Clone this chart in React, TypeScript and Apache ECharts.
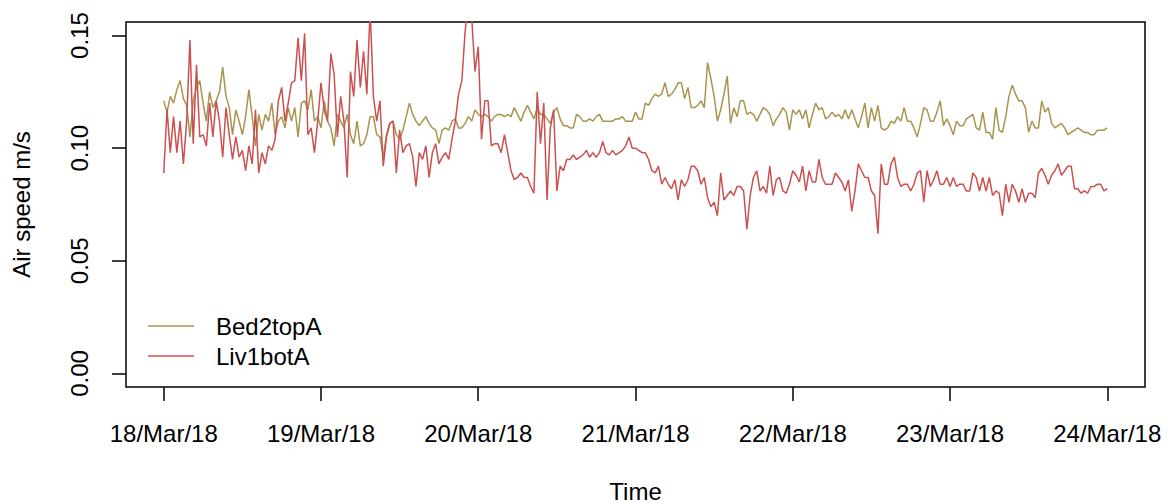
import React, { useEffect, useRef } from "react";
import * as echarts from "echarts";

// Tick positions (hours since 18/Mar/18 00:00) and their labels
const dayHours = [0, 24, 48, 72, 96, 120, 144];
const dayLabels = ["18/Mar/18", "19/Mar/18", "20/Mar/18", "21/Mar/18", "22/Mar/18", "23/Mar/18", "24/Mar/18"];
const yTicks = [0, 0.05, 0.1, 0.15];
const yTickLabels = ["0.00", "0.05", "0.10", "0.15"];
const stepHours = 0.5; // readings every 30 minutes

const bed2topA = [
  0.121, 0.116, 0.123, 0.120, 0.126, 0.130, 0.122, 0.119, 0.105, 0.121,
  0.127, 0.130, 0.120, 0.112, 0.125, 0.118, 0.121, 0.125, 0.136, 0.123,
  0.118, 0.106, 0.117, 0.112, 0.106, 0.114, 0.126, 0.114, 0.101, 0.115,
  0.108, 0.115, 0.112, 0.120, 0.106, 0.112, 0.114, 0.109, 0.118, 0.112,
  0.118, 0.105, 0.120, 0.121, 0.117, 0.126, 0.112, 0.114, 0.109, 0.121,
  0.112, 0.109, 0.101, 0.115, 0.112, 0.109, 0.115, 0.106, 0.102, 0.112,
  0.101, 0.102, 0.106, 0.114, 0.114, 0.106, 0.105, 0.096, 0.106, 0.111,
  0.112, 0.106, 0.104, 0.108, 0.114, 0.120, 0.115, 0.112, 0.110, 0.112,
  0.114, 0.111, 0.109, 0.108, 0.102, 0.108, 0.109, 0.108, 0.112, 0.113,
  0.109, 0.109, 0.111, 0.114, 0.112, 0.117, 0.115, 0.114, 0.115, 0.114,
  0.112, 0.114, 0.115, 0.115, 0.114, 0.115, 0.114, 0.118, 0.115, 0.112,
  0.116, 0.119, 0.116, 0.113, 0.118, 0.115, 0.115, 0.113, 0.111, 0.116,
  0.118, 0.113, 0.110, 0.110, 0.109, 0.109, 0.115, 0.114, 0.112, 0.112,
  0.113, 0.112, 0.114, 0.115, 0.112, 0.112, 0.112, 0.112, 0.113, 0.113,
  0.114, 0.112, 0.112, 0.112, 0.116, 0.113, 0.113, 0.120, 0.119, 0.122,
  0.124, 0.123, 0.124, 0.129, 0.123, 0.124, 0.126, 0.129, 0.129, 0.122,
  0.127, 0.118, 0.118, 0.119, 0.121, 0.118, 0.138, 0.131, 0.123, 0.112,
  0.117, 0.124, 0.132, 0.111, 0.118, 0.114, 0.121, 0.121, 0.115, 0.116,
  0.115, 0.112, 0.115, 0.118, 0.117, 0.115, 0.110, 0.113, 0.115, 0.118,
  0.116, 0.108, 0.117, 0.115, 0.117, 0.113, 0.117, 0.109, 0.115, 0.120,
  0.117, 0.118, 0.113, 0.114, 0.116, 0.114, 0.115, 0.113, 0.117, 0.113,
  0.117, 0.113, 0.109, 0.114, 0.120, 0.109, 0.118, 0.112, 0.119, 0.109,
  0.108, 0.109, 0.112, 0.111, 0.114, 0.112, 0.118, 0.112, 0.112, 0.109,
  0.105, 0.111, 0.118, 0.117, 0.112, 0.112, 0.116, 0.121, 0.110, 0.113,
  0.110, 0.106, 0.112, 0.110, 0.110, 0.113, 0.114, 0.115, 0.109, 0.108,
  0.116, 0.107, 0.107, 0.104, 0.118, 0.108, 0.107, 0.114, 0.123, 0.128,
  0.124, 0.121, 0.121, 0.118, 0.107, 0.112, 0.109, 0.109, 0.121, 0.116,
  0.118, 0.111, 0.109, 0.110, 0.111, 0.109, 0.106, 0.107, 0.108, 0.109,
  0.108, 0.107, 0.107, 0.106, 0.106, 0.108, 0.108, 0.108, 0.109,
];

const liv1botA = [
  0.089, 0.117, 0.098, 0.114, 0.098, 0.112, 0.093, 0.112, 0.148, 0.102,
  0.137, 0.105, 0.106, 0.101, 0.120, 0.105, 0.121, 0.112, 0.096, 0.118,
  0.106, 0.095, 0.105, 0.096, 0.099, 0.090, 0.101, 0.093, 0.117, 0.089,
  0.098, 0.093, 0.101, 0.099, 0.104, 0.121, 0.127, 0.112, 0.120, 0.129,
  0.130, 0.149, 0.130, 0.151, 0.106, 0.109, 0.098, 0.112, 0.129, 0.117,
  0.112, 0.142, 0.133, 0.105, 0.123, 0.112, 0.087, 0.134, 0.123, 0.148,
  0.127, 0.143, 0.124, 0.162, 0.123, 0.112, 0.121, 0.092, 0.105, 0.111,
  0.112, 0.089, 0.108, 0.098, 0.101, 0.102, 0.096, 0.083, 0.098, 0.095,
  0.101, 0.087, 0.098, 0.102, 0.093, 0.096, 0.098, 0.095, 0.104, 0.112,
  0.124, 0.130, 0.152, 0.165, 0.158, 0.134, 0.145, 0.104, 0.121, 0.121,
  0.101, 0.102, 0.102, 0.098, 0.106, 0.098, 0.090, 0.086, 0.087, 0.089,
  0.087, 0.087, 0.083, 0.080, 0.125, 0.102, 0.120, 0.077, 0.109, 0.117,
  0.081, 0.092, 0.090, 0.095, 0.095, 0.097, 0.095, 0.096, 0.097, 0.099,
  0.096, 0.098, 0.096, 0.098, 0.103, 0.098, 0.097, 0.099, 0.097, 0.098,
  0.099, 0.101, 0.105, 0.100, 0.100, 0.099, 0.098, 0.098, 0.095, 0.090,
  0.089, 0.092, 0.084, 0.087, 0.084, 0.082, 0.086, 0.077, 0.086, 0.083,
  0.086, 0.092, 0.092, 0.090, 0.084, 0.087, 0.078, 0.074, 0.076, 0.070,
  0.089, 0.077, 0.079, 0.081, 0.079, 0.083, 0.083, 0.081, 0.064, 0.079,
  0.087, 0.090, 0.081, 0.083, 0.080, 0.092, 0.079, 0.086, 0.087, 0.081,
  0.080, 0.084, 0.090, 0.088, 0.085, 0.092, 0.081, 0.090, 0.085, 0.085,
  0.095, 0.087, 0.084, 0.084, 0.084, 0.089, 0.087, 0.085, 0.081, 0.086,
  0.072, 0.081, 0.093, 0.090, 0.087, 0.087, 0.081, 0.079, 0.062, 0.093,
  0.084, 0.084, 0.093, 0.096, 0.087, 0.083, 0.084, 0.084, 0.081, 0.084,
  0.089, 0.090, 0.076, 0.090, 0.083, 0.086, 0.090, 0.084, 0.084, 0.087,
  0.083, 0.087, 0.083, 0.084, 0.084, 0.081, 0.081, 0.089, 0.087, 0.081,
  0.087, 0.081, 0.087, 0.079, 0.081, 0.080, 0.070, 0.084, 0.076, 0.084,
  0.081, 0.076, 0.082, 0.076, 0.080, 0.080, 0.078, 0.089, 0.091, 0.088,
  0.084, 0.088, 0.090, 0.093, 0.088, 0.090, 0.092, 0.092, 0.082, 0.082,
  0.080, 0.081, 0.080, 0.083, 0.083, 0.084, 0.084, 0.081, 0.082,
];

const seriesNames = ["Bed2topA", "Liv1botA"];
const seriesColors = ["#A8944E", "#CB5150"];

export default function App() {
  const ref = useRef<HTMLDivElement>(null);

  useEffect(() => {
    if (!ref.current) return;
    const chart = echarts.init(ref.current, null, { renderer: "svg" });
    const font = "'Liberation Sans', Arial, Helvetica, sans-serif";
    const toPairs = (arr: number[]) => arr.map((v, i) => [i * stepHours, v]);
    const fmtDay = (v: number) => {
      const k = dayHours.findIndex((h) => Math.abs(h - v) < 1e-6);
      return k >= 0 ? dayLabels[k] : "";
    };
    const fmtY = (v: number) => {
      const k = yTicks.findIndex((t) => Math.abs(t - v) < 1e-9);
      return k >= 0 ? yTickLabels[k] : "";
    };

    chart.setOption({
      animation: false,
      backgroundColor: "#ffffff",
      textStyle: { fontFamily: font },
      grid: {
        left: 126,
        top: 22,
        width: 1019,
        height: 365,
        show: true,
        borderColor: "#000",
        borderWidth: 1.5,
        backgroundColor: "transparent",
        containLabel: false,
        outerBoundsMode: "none",
      },
      xAxis: {
        type: "value",
        min: -5.76,
        max: 149.76,
        splitLine: { show: false },
        axisLine: { show: false, onZero: false },
        axisTick: {
          show: true,
          customValues: dayHours,
          length: 14,
          lineStyle: { color: "#000", width: 1.5 },
        },
        axisLabel: {
          customValues: dayHours,
          formatter: fmtDay,
          fontSize: 24,
          color: "#000",
          margin: 34,
          fontFamily: font,
        },
        name: "Time",
        nameLocation: "middle",
        nameGap: 92,
        nameTextStyle: { fontSize: 24, color: "#000", fontFamily: font },
      },
      yAxis: {
        type: "value",
        min: -0.006,
        max: 0.156,
        splitLine: { show: false },
        axisLine: { show: false, onZero: false },
        axisTick: {
          show: true,
          customValues: yTicks,
          length: 14,
          lineStyle: { color: "#000", width: 1.5 },
        },
        axisLabel: {
          customValues: yTicks,
          formatter: fmtY,
          rotate: 90,
          fontSize: 24,
          color: "#000",
          margin: 35,
          fontFamily: font,
        },
        name: "Air speed m/s",
        nameLocation: "middle",
        nameRotate: 90,
        nameGap: 93,
        nameTextStyle: { fontSize: 24, color: "#000", fontFamily: font },
      },
      legend: {
        orient: "vertical",
        left: 148,
        top: 314,
        padding: 0,
        itemWidth: 46,
        itemHeight: 1.5,
        itemGap: 6,
        icon: "rect",
        data: seriesNames,
        textStyle: {
          fontSize: 24,
          color: "#000",
          fontFamily: font,
          lineHeight: 24,
          padding: [0, 0, 0, 17],
        },
      },
      series: [bed2topA, liv1botA].map((arr, k) => ({
        name: seriesNames[k],
        type: "line",
        data: toPairs(arr),
        symbol: "none",
        showSymbol: false,
        clip: true,
        color: seriesColors[k],
        lineStyle: { color: seriesColors[k], width: 1.5 },
        emphasis: { disabled: true },
      })),
    });

    return () => chart.dispose();
  }, []);

  return (
    <div
      ref={ref}
      style={{ position: "fixed", left: 0, top: 0, width: 1174, height: 504 }}
    />
  );
}
